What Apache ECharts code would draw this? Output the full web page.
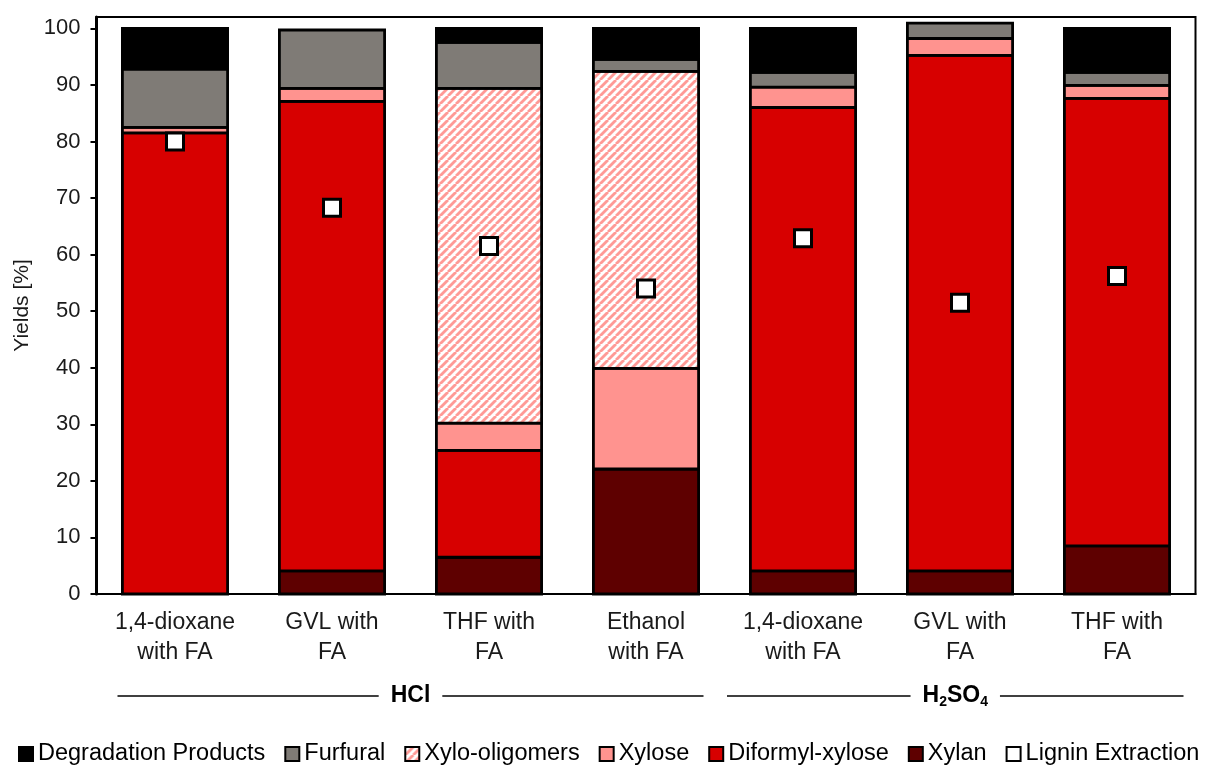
<!DOCTYPE html>
<html>
<head>
<meta charset="utf-8">
<script src="https://cdn.jsdelivr.net/npm/echarts@6/dist/echarts.min.js"></script>
<style>
  html, body { margin: 0; padding: 0; background: #fff; }
  #chart { width: 1205px; height: 767px; }
</style>
</head>
<body>
<div id="chart"></div>
<script>
// Pretreatment conditions (solvent systems), grouped by acid catalyst
const categories = [
  '1,4-dioxane\nwith FA', 'GVL with\nFA', 'THF with\nFA', 'Ethanol\nwith FA',
  '1,4-dioxane\nwith FA', 'GVL with\nFA', 'THF with\nFA'
];
const acidGroups = ['HCl', 'H{s|2}SO{s|4}'];
const acidGroupStart = [0, 4];
const acidGroupEnd = [3, 6];

// Stacked yield fractions [%], bottom to top
const xylan          = [0,    4.1,  6.5,  22.1, 4.1,  4.1,  8.5];
const diformylXylose = [81.5, 83.0, 18.9, 0,    81.9, 91.1, 79.1];
const xylose         = [1.0,  2.3,  4.8,  17.8, 3.6,  3.0,  2.3];
const xyloOligomers  = [0,    0,    59.2, 52.5, 0,    0,    0];
const furfural       = [10.3, 10.3, 8.1,  2.1,  2.6,  2.7,  2.3];
const degradation    = [7.2,  0,    2.5,  5.5,  7.8,  0,    7.8];

// Lignin extraction [%]
const ligninExtraction = [80.0, 68.3, 61.5, 54.0, 62.9, 51.5, 56.2];

// Y axis tick labels
const yTicks = [0, 10, 20, 30, 40, 50, 60, 70, 80, 90, 100];

const FONT = '"Liberation Sans", Arial, sans-serif';
const BAR_WIDTH_RATIO = 0.67;

// Hatched fill for xylo-oligomers
function hatchPattern() {
  const s = 8;
  const c = document.createElement('canvas');
  c.width = s; c.height = s;
  const g = c.getContext('2d');
  g.fillStyle = '#ffffff';
  g.fillRect(0, 0, s, s);
  g.strokeStyle = '#ff9a96';
  g.lineWidth = 2.8;
  for (let k = -1; k <= 1; k++) {
    g.beginPath();
    g.moveTo(k * s, s);
    g.lineTo(k * s + s, 0);
    g.stroke();
  }
  return { image: c, repeat: 'repeat' };
}

// Components in stacking order (bottom to top)
const stackLayers = [
  { name: 'Xylan', values: xylan, color: '#5e0000' },
  { name: 'Diformyl-xylose', values: diformylXylose, color: '#d70000' },
  { name: 'Xylose', values: xylose, color: '#ff938f' },
  { name: 'Xylo-oligomers', values: xyloOligomers, color: hatchPattern() },
  { name: 'Furfural', values: furfural, color: '#7f7b76' },
  { name: 'Degradation Products', values: degradation, color: '#000000' }
];

function stackBase(layerIndex, i) {
  let s = 0;
  for (let k = 0; k < layerIndex; k++) s += stackLayers[k].values[i];
  return s;
}

function layerSeries(layer, layerIndex) {
  return {
    name: layer.name,
    type: 'custom',
    z: 2 + layerIndex * 0.01,
    data: layer.values.map((v, i) => [i, v]),
    encode: { x: 0, y: 1 },
    itemStyle: { color: layer.color, borderColor: '#000', borderWidth: 1.5 },
    renderItem: function (params, api) {
      const i = api.value(0);
      const v = api.value(1);
      if (!v) return null;
      const base = stackBase(layerIndex, i);
      const p0 = api.coord([i, base]);
      const p1 = api.coord([i, base + v]);
      const w = api.size([1, 0])[0] * BAR_WIDTH_RATIO;
      return {
        type: 'rect',
        shape: { x: p0[0] - w / 2, y: p1[1], width: w, height: p0[1] - p1[1] },
        style: { fill: layer.color, stroke: '#000', lineWidth: 2.8, lineJoin: 'miter' }
      };
    }
  };
}

const chart = echarts.init(document.getElementById('chart'), null, { renderer: 'canvas' });

const option = {
  animation: false,
  backgroundColor: '#fff',
  textStyle: { fontFamily: FONT, color: '#000' },
  grid: {
    left: 96.5, right: 9.5, top: 17, bottom: 173,
    show: true, borderColor: '#000', borderWidth: 2, backgroundColor: 'transparent'
  },
  legend: {
    top: 737,
    left: 13,
    itemWidth: 14,
    itemHeight: 14,
    itemGap: 19,
    icon: 'rect',
    textStyle: { fontFamily: FONT, fontSize: 23.5, color: '#000' },
    data: ['Degradation Products', 'Furfural', 'Xylo-oligomers', 'Xylose',
           'Diformyl-xylose', 'Xylan', 'Lignin Extraction']
  },
  xAxis: {
    type: 'category',
    data: categories,
    axisLine: { lineStyle: { color: '#000', width: 2 } },
    axisTick: { show: false },
    axisLabel: {
      interval: 0,
      margin: 14,
      fontFamily: FONT,
      fontSize: 23,
      lineHeight: 30,
      color: '#1a1a1a'
    }
  },
  yAxis: {
    type: 'value',
    min: 0,
    max: 102,
    interval: 10,
    name: 'Yields [%]',
    nameLocation: 'middle',
    nameGap: 53,
    nameTextStyle: { fontFamily: FONT, fontSize: 21, color: '#1a1a1a' },
    splitLine: { show: false },
    axisLine: { show: true, lineStyle: { color: '#000', width: 3 } },
    axisTick: { show: true, length: 6, lineStyle: { color: '#000', width: 2 }, customValues: yTicks },
    axisLabel: { margin: 16, fontFamily: FONT, fontSize: 22, color: '#1a1a1a', customValues: yTicks }
  },
  series: stackLayers.map(layerSeries).concat([
    {
      name: 'Lignin Extraction',
      type: 'scatter',
      data: ligninExtraction,
      symbol: 'rect',
      symbolSize: 17,
      z: 5,
      itemStyle: { color: '#ffffff', borderColor: '#000', borderWidth: 3, opacity: 1 },
      emphasis: { disabled: true }
    }
  ])
};

chart.setOption(option);

// Acid-catalyst brackets below the category labels
const half = (chart.convertToPixel({ xAxisIndex: 0 }, 1) - chart.convertToPixel({ xAxisIndex: 0 }, 0)) / 2;
const bracketY = 696;
const insets = [[21, 21], [2.5, 12]];
const elements = [];
acidGroups.forEach((label, i) => {
  const x0 = chart.convertToPixel({ xAxisIndex: 0 }, acidGroupStart[i]) - half + insets[i][0];
  const x1 = chart.convertToPixel({ xAxisIndex: 0 }, acidGroupEnd[i]) + half - insets[i][1];
  elements.push({
    type: 'line',
    shape: { x1: x0, y1: bracketY, x2: x1, y2: bracketY },
    style: { stroke: '#000', lineWidth: 1.5 },
    silent: true
  });
  elements.push({
    type: 'text',
    x: (x0 + x1) / 2,
    y: bracketY,
    z: 10,
    style: {
      text: label,
      fontFamily: FONT,
      fontSize: 23,
      fontWeight: 'bold',
      fill: '#000',
      align: 'center',
      verticalAlign: 'middle',
      backgroundColor: '#fff',
      padding: [2, 12, 2, 12],
      rich: {
        s: { fontFamily: FONT, fontSize: 14, fontWeight: 'bold', fill: '#000', padding: [12, 0, 0, 0] }
      }
    },
    silent: true
  });
});
chart.setOption({ graphic: { elements: elements } });
</script>
</body>
</html>
